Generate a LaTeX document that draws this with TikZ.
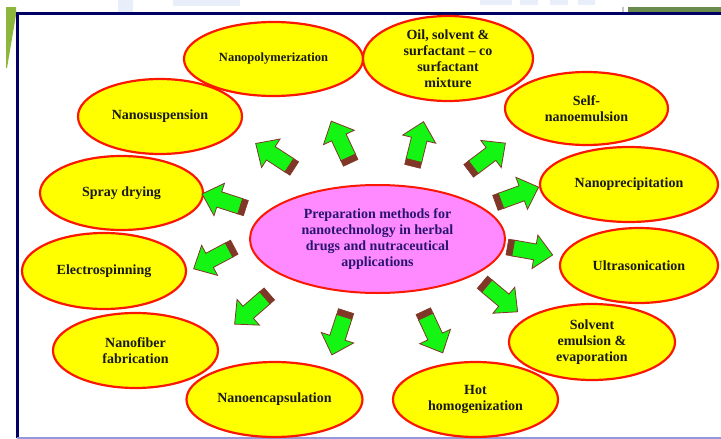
\documentclass[tikz,border=0pt]{standalone}
\usepackage{fontspec}
\setmainfont{Liberation Serif}
\usetikzlibrary{shapes.geometric}
\definecolor{yel}{RGB}{255,255,0}
\definecolor{ellred}{RGB}{250,25,0}
\definecolor{pinkc}{RGB}{255,138,255}
\definecolor{ctext}{RGB}{40,20,110}
\definecolor{arrgreen}{RGB}{20,245,20}
\definecolor{arrbrown}{RGB}{128,55,40}
\definecolor{navyc}{RGB}{0,0,100}
\definecolor{bottomc}{RGB}{150,150,220}
\definecolor{olivec}{RGB}{140,182,60}
\definecolor{bargreen}{RGB}{105,140,78}
\definecolor{ghost}{RGB}{232,239,250}
\tikzset{
  bubble/.style={ellipse, draw=ellred, line width=2.2pt, fill=yel, inner sep=0pt,
    font=\bfseries\fontsize{14}{16}\selectfont, align=center, text=black!90},
  hub/.style={ellipse, draw=ellred, line width=2pt, fill=pinkc, inner sep=0pt,
    font=\bfseries\fontsize{14}{16}\selectfont, align=center, text=ctext},
  blockarrow/.pic={
    \draw[draw=arrbrown, fill=arrbrown, line width=0.6pt] (-23,-8) rectangle (-16,8);
    \draw[draw=arrbrown, fill=arrgreen, line width=0.8pt, line join=miter]
      (-17,-8) -- (5,-8) -- (5,-17) -- (23,0) -- (5,17) -- (5,8) -- (-17,8) -- cycle;
  }
}
\begin{document}
\begin{tikzpicture}[x=1pt,y=-1pt]
\useasboundingbox (0,0) rectangle (721,439);
\fill[white] (0,0) rectangle (721,439);
% faint background shapes at the top
\fill[ghost] (118,0) rectangle (133,12);
\fill[ghost] (173,0) rectangle (240,6);
\fill[ghost] (480,0) rectangle (512,5);
\fill[ghost] (520,0) rectangle (538,5);
\fill[ghost] (550,0) rectangle (568,5);
\fill[ghost] (578,0) rectangle (595,5);
% decorations
\fill[olivec] (6,7) -- (16,7) -- (16,15) -- (7,68) -- (6,68) -- cycle;
\fill[bargreen] (628,7) rectangle (721,12);
\fill[gray!45] (622,7) rectangle (624,12);
\draw[navyc, line width=3pt] (721,13) -- (17,13) -- (17,438);
\draw[bottomc, line width=2pt] (17,437.5) -- (721,437.5);

% centre
\node[hub, minimum width=255pt, minimum height=108pt] (hub) at (377.5,239)
  {Preparation methods for\\nanotechnology in herbal\\drugs and nutraceutical\\applications};

% outer bubbles
\node[bubble, minimum width=179pt, minimum height=74pt, font=\bfseries\fontsize{12.5}{15}\selectfont] (np) at (273.5,59) {Nanopolymerization};
\node[bubble, minimum width=170pt, minimum height=85pt] (oil) at (448,58.5) {Oil, solvent \&\\surfactant -- co\\surfactant\\mixture};
\node[bubble, minimum width=163pt, minimum height=73pt] (self) at (586.5,108.5) {Self-\\nanoemulsion};
\node[bubble, minimum width=178pt, minimum height=75pt] (nprec) at (629,184.5) {Nanoprecipitation};
\node[bubble, minimum width=158pt, minimum height=75pt] (ultra) at (639,265.5) {Ultrasonication};
\node[bubble, minimum width=166pt, minimum height=76pt] (solv) at (592,342) {Solvent\\emulsion \&\\evaporation};
\node[bubble, minimum width=165pt, minimum height=75pt] (hot) at (475.5,399.5) {Hot\\homogenization};
\node[bubble, minimum width=176pt, minimum height=75pt] (nenc) at (274.5,399.5) {Nanoencapsulation};
\node[bubble, minimum width=165pt, minimum height=75pt] (nfib) at (135.5,350.5) {Nanofiber\\fabrication};
\node[bubble, minimum width=164pt, minimum height=76pt] (elec) at (104,271) {Electrospinning};
\node[bubble, minimum width=163pt, minimum height=74pt] (spray) at (121.5,193) {Spray drying};
\node[bubble, minimum width=164pt, minimum height=75pt] (nsus) at (160,116.5) {Nanosuspension};

% block arrows
\pic[rotate=147] at (275,156) {blockarrow};
\pic[rotate=115] at (341,142) {blockarrow};
\pic[rotate=76] at (418,144) {blockarrow};
\pic[rotate=37] at (487,157) {blockarrow};
\pic[rotate=20] at (517,195) {blockarrow};
\pic[rotate=-10] at (530,251) {blockarrow};
\pic[rotate=-40] at (500,297) {blockarrow};
\pic[rotate=-65] at (433,332) {blockarrow};
\pic[rotate=-108] at (339,333) {blockarrow};
\pic[rotate=-139] at (252,309) {blockarrow};
\pic[rotate=-152] at (214,258) {blockarrow};
\pic[rotate=162] at (224,201) {blockarrow};
\end{tikzpicture}
\end{document}
